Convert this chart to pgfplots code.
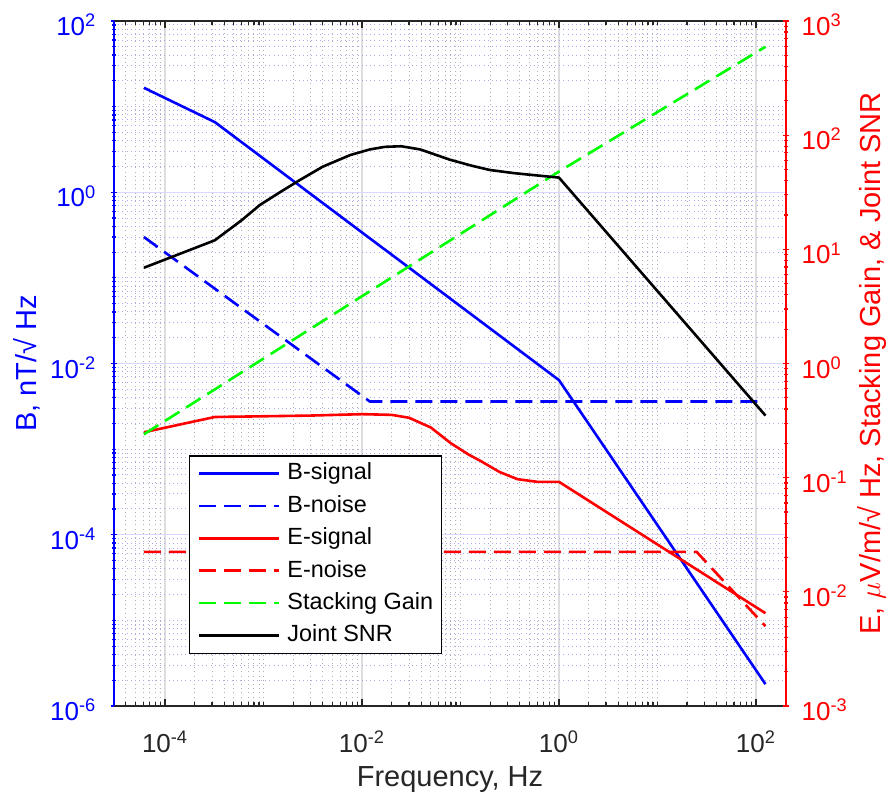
\documentclass[border=0pt]{standalone}
\usepackage{pgfplots}
\pgfplotsset{compat=1.18}
\usepackage{fontspec}
\setmainfont{Liberation Sans}
\definecolor{axgray}{RGB}{38,38,38}
\definecolor{gridx}{RGB}{222,222,222}
\definecolor{gridy}{RGB}{215,215,255}
\definecolor{mgridx}{RGB}{175,175,175}
\definecolor{mgridy}{RGB}{170,170,240}
\definecolor{mgreen}{RGB}{0,255,0}
% minor tick lists
\def\mxt{1e-3,1e-1,1e1}
\foreach \e in {-5,...,2}{\foreach \m in {2,...,9}{\xdef\mxt{\mxt,\m e\e}}}
\def\myl{1e-5,1e-3,1e-1,1e1}
\foreach \e in {-6,...,1}{\foreach \m in {2,...,9}{\xdef\myl{\myl,\m e\e}}}
\def\myr{2e-3}
\foreach \e in {-3,...,2}{\foreach \m in {2,...,9}{\xdef\myr{\myr,\m e\e}}}
\tikzset{
  bsig/.style={draw=blue, line width=1.3pt},
  bnoi/.style={draw=blue, line width=1.3pt, dash pattern=on 8.5pt off 4pt},
  esig/.style={draw=red, line width=1.3pt},
  enoi/.style={draw=red, line width=1.3pt, dash pattern=on 8.5pt off 4pt},
  sgain/.style={draw=mgreen, line width=1.3pt, dash pattern=on 8.5pt off 4pt},
  jsnr/.style={draw=black, line width=1.3pt},
}
\newcommand{\tfont}{\fontsize{13}{15}\selectfont}
\newcommand{\lfont}{\fontsize{14.5}{17}\selectfont}
\begin{document}
\begin{tikzpicture}
\useasboundingbox (-57pt,-47pt) rectangle (390pt,353pt);
\begin{axis}[
  at={(0,0)}, anchor=south west,
  width=336pt, height=342.5pt, scale only axis,
  xmode=log, ymode=log,
  xmin=3.03e-5, xmax=202, ymin=1e-6, ymax=1e2,
  axis x line=box, axis y line=left,
  x axis line style={-, draw=axgray, line width=0.7pt},
  y axis line style={-, draw=blue, line width=0.7pt},
  xtick={1e-4,1e-2,1,1e2},
  xticklabels={10\textsuperscript{-4},10\textsuperscript{-2},10\textsuperscript{0},10\textsuperscript{2}},
  ytick={1e-6,1e-4,1e-2,1,1e2},
  yticklabels={10\textsuperscript{-6},10\textsuperscript{-4},10\textsuperscript{-2},10\textsuperscript{0},10\textsuperscript{2}},
  minor xtick/.expand once=\mxt,
  minor ytick/.expand once=\myl,
  major tick length=3.3pt, minor tick length=1.8pt,
  xtick style={draw=axgray, line width=0.6pt},
  ytick style={draw=blue, line width=0.6pt},
  xticklabel style={font=\tfont, text=axgray, anchor=base, inner sep=0pt, yshift=-23pt},
  yticklabel style={font=\tfont, text=blue, anchor=base east, inner sep=0pt, xshift=-7pt, yshift=-7.25pt},
  grid=both,
  major x grid style={draw=gridx, line width=0.6pt},
  major y grid style={draw=gridy, line width=0.6pt},
  minor x grid style={draw=mgridx, line width=0.5pt, dash pattern=on 0.5pt off 1.6pt},
  minor y grid style={draw=mgridy, line width=0.5pt, dash pattern=on 0.5pt off 1.6pt},
  xlabel={Frequency, Hz},
  xlabel style={font=\lfont, text=axgray, at={(axis description cs:0.5,-0.1182)}, anchor=base},
  ylabel={B, nT/√ Hz},
  ylabel style={font=\lfont, text=blue, at={(axis description cs:-0.1146,0.5)}, anchor=base, rotate=0},
]
% B-signal
\addplot[bsig] coordinates {(6.1e-5,16.6) (3.2e-4,6.6) (1,6.4e-3) (125,1.8e-6)};
% B-noise
\addplot[bnoi] coordinates {(6.1e-5,0.3) (0.012,3.6e-3) (125,3.6e-3)};
\end{axis}
\begin{axis}[
  at={(0,0)}, anchor=south west,
  width=336pt, height=342.5pt, scale only axis,
  xmode=log, ymode=log,
  xmin=3.03e-5, xmax=202, ymin=1e-3, ymax=1e3,
  axis x line=none, axis y line=right,
  y axis line style={-, draw=red, line width=0.7pt},
  ytick={1e-3,1e-2,1e-1,1,1e1,1e2,1e3},
  yticklabels={10\textsuperscript{-3},10\textsuperscript{-2},10\textsuperscript{-1},10\textsuperscript{0},10\textsuperscript{1},10\textsuperscript{2},10\textsuperscript{3}},
  minor ytick/.expand once=\myr,
  major tick length=3.3pt, minor tick length=1.8pt,
  ytick style={draw=red, line width=0.6pt},
  yticklabel style={font=\tfont, text=red, anchor=base west, inner sep=0pt, xshift=6pt, yshift=-7.25pt},
  ylabel={E, $\mu$V/m/√ Hz, Stacking Gain, \& Joint SNR},
  ylabel style={font=\lfont, text=red, at={(axis description cs:1.1399,0.5)}, anchor=base, rotate=0},
  legend cell align=left,
  legend image code/.code={\draw[#1] (0pt,0pt) -- (40pt,0pt);},
  legend style={at={(rel axis cs:0.112,0.366)}, anchor=north west, draw=black, line width=0.6pt, fill=white,
    font=\fontsize{11.7}{13}\selectfont, inner xsep=4pt, inner ysep=3pt, row sep=4.6pt, column sep=3.5pt,
    nodes={inner sep=0pt, text height=9pt, text depth=2.6pt}},
]
\addlegendimage{bsig}\addlegendentry{B-signal}
\addlegendimage{bnoi}\addlegendentry{B-noise}
% E-signal
\addplot[esig] coordinates {(6.1e-5,0.25) (3.2e-4,0.34) (1e-3,0.345) (3e-3,0.35) (0.01,0.36) (0.02,0.355) (0.03,0.335) (0.05,0.275) (0.08,0.2) (0.12,0.16) (0.16,0.14) (0.25,0.112) (0.38,0.097) (0.6,0.092) (1,0.092) (125,0.0065)};
\addlegendentry{E-signal}
% E-noise
\addplot[enoi] coordinates {(6.1e-5,0.0224) (25,0.0224) (125,0.005)};
\addlegendentry{E-noise}
% Stacking gain
\addplot[sgain] coordinates {(6.1e-5,0.24) (1,48) (125,595)};
\addlegendentry{Stacking Gain}
% Joint SNR
\addplot[jsnr] coordinates {(6.1e-5,6.9) (3.2e-4,12) (6e-4,18) (9.2e-4,24.5) (1.5e-3,32) (2.34e-3,40.5) (4e-3,53) (7.6e-3,67) (0.012,75) (0.017,79) (0.025,80) (0.039,75) (0.078,61) (0.13,54) (0.2,49.5) (0.35,46.5) (0.51,45) (1,42.5) (125,0.35)};
\addlegendentry{Joint SNR}
\end{axis}
\end{tikzpicture}
\end{document}
